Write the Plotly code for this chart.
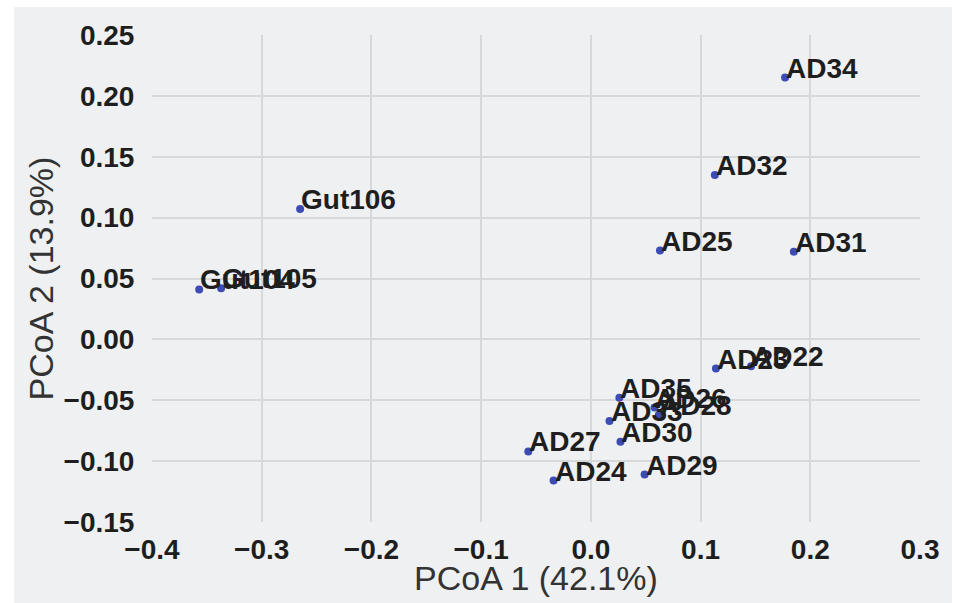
import plotly.graph_objects as go

# PCoA ordination coordinates per sample
samples = ["Gut104", "Gut105", "Gut106",
           "AD34", "AD32", "AD25", "AD31",
           "AD23", "AD22", "AD35", "AD26", "AD28", "AD33",
           "AD30", "AD27", "AD24", "AD29"]
pcoa1 = [-0.357, -0.337, -0.265,
         0.177, 0.113, 0.063, 0.185,
         0.114, 0.146, 0.026, 0.058, 0.062, 0.017,
         0.027, -0.057, -0.034, 0.049]
pcoa2 = [0.041, 0.042, 0.107,
         0.215, 0.135, 0.073, 0.072,
         -0.024, -0.022, -0.048, -0.056, -0.062, -0.067,
         -0.084, -0.092, -0.116, -0.111]

x_ticks = [-0.4, -0.3, -0.2, -0.1, 0.0, 0.1, 0.2, 0.3]
y_ticks = [-0.15, -0.10, -0.05, 0.00, 0.05, 0.10, 0.15, 0.20, 0.25]
x_title = "PCoA 1 (42.1%)"
y_title = "PCoA 2 (13.9%)"

BG = "#EEF0F1"
GRID = "#D6D8DA"
DOT = "#3D4BB5"
FONT = "Liberation Sans, Arial, sans-serif"
TITLE_FONT = dict(family=FONT, size=34, color="#333333")

fig = go.Figure()
fig.add_trace(go.Scatter(
    x=pcoa1, y=pcoa2, mode="markers",
    marker=dict(size=8, color=DOT),
    hoverinfo="skip", showlegend=False,
))

# sample names, written just right of each point with the baseline at the point
for name, px, py in zip(samples, pcoa1, pcoa2):
    fig.add_annotation(
        x=px, y=py, xref="x", yref="y", text=name, showarrow=False,
        xanchor="left", yanchor="bottom", xshift=-1, yshift=-8,
        font=dict(family=FONT, size=28, color="#1E1E1E", weight="bold"),
    )

axis_common = dict(
    showgrid=True, gridcolor=GRID, gridwidth=2,
    zeroline=False, ticks="", automargin=False,
    # frame lines in the panel colour so no grid line shows on the edges
    showline=True, mirror=True, linecolor=BG, linewidth=3,
    tickfont=dict(family=FONT, size=28, color="#1E1E1E", weight="bold"),
    title_font=TITLE_FONT,
)

fig.update_xaxes(range=[-0.4, 0.3], tickvals=x_ticks, tickformat=".1f",
                 ticklabelstandoff=0, **axis_common)
fig.update_yaxes(range=[-0.15, 0.25], tickvals=y_ticks, tickformat=".2f",
                 title_text=y_title, title_standoff=0,
                 ticklabelstandoff=9, **axis_common)

# x-axis title placed under the tick labels
fig.add_annotation(x=0.5, y=-0.115, xref="paper", yref="paper",
                   text=x_title, showarrow=False,
                   xanchor="center", yanchor="middle", font=TITLE_FONT)

# grey panel behind the whole chart, leaving a thin white frame
fig.add_shape(type="rect", xref="paper", yref="paper",
              x0=-0.1797, x1=1.0417, y0=-0.25, y1=1.0575,
              fillcolor=BG, line=dict(width=0), layer="below")

fig.update_layout(
    width=955, height=603,
    margin=dict(l=152, r=35, t=35, b=81),
    paper_bgcolor="white", plot_bgcolor="rgba(0,0,0,0)",
    font=dict(family=FONT),
)

fig.write_html("out.html")
